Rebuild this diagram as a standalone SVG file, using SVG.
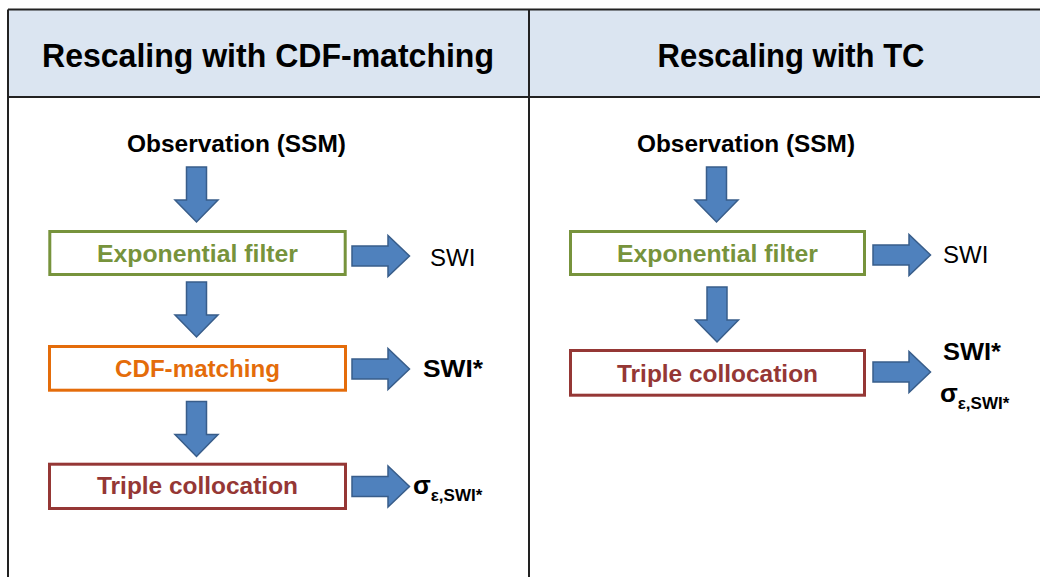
<svg xmlns="http://www.w3.org/2000/svg" xmlns:xlink="http://www.w3.org/1999/xlink" width="1040" height="577" viewBox="0 0 1040 577">
<style>
.hdr{font-family:"Liberation Sans",Arial,sans-serif;font-weight:bold;font-size:34px;fill:#000;text-anchor:middle}
.obs{font-family:"Liberation Sans",Arial,sans-serif;font-weight:bold;font-size:24px;fill:#000;text-anchor:middle}
.box{fill:#fff;stroke-width:3}
.lbl{font-family:"Liberation Sans",Arial,sans-serif;font-weight:bold;font-size:24px;text-anchor:middle}
.out{font-family:"Liberation Sans",Arial,sans-serif;font-size:24px;fill:#000}
.outb{font-family:"Liberation Sans",Arial,sans-serif;font-weight:bold;font-size:24px;fill:#000}
.sig{font-family:"Liberation Sans",Arial,sans-serif;font-weight:bold;font-size:26px;fill:#000}
.sub{font-size:17px}
.arr{fill:#4f81bd;stroke:#385d8a;stroke-width:1.5;stroke-linejoin:miter}
.frame{stroke:#222;stroke-width:2;fill:none}
</style>
<defs>
<path id="down" d="M-10,0 H10 V33 H21.5 L0,55 L-21.5,33 H-10 Z"/>
<path id="right" d="M0,-10 H36 V-20.5 L57.5,0 L36,20.5 V10 H0 Z"/>
</defs>
<rect x="0" y="0" width="1040" height="577" fill="#fff"/>
<g id="table">
<rect x="8" y="9.5" width="1032" height="87.5" fill="#dbe5f1"/>
<line class="frame" x1="8" y1="9.5" x2="1040" y2="9.5"/>
<line class="frame" x1="8" y1="97" x2="1040" y2="97"/>
<line class="frame" x1="8" y1="9.5" x2="8" y2="577"/>
<line class="frame" x1="529" y1="9.5" x2="529" y2="577"/>
<text class="hdr" x="268" y="67" textLength="452" lengthAdjust="spacingAndGlyphs">Rescaling with CDF-matching</text>
<text class="hdr" x="791" y="67" textLength="267" lengthAdjust="spacingAndGlyphs">Rescaling with TC</text>
</g>
<g id="connectors">
<use href="#down" class="arr" transform="translate(196.5,167)"/>
<use href="#down" class="arr" transform="translate(196.5,282)"/>
<use href="#down" class="arr" transform="translate(196.5,401.5)"/>
<use href="#down" class="arr" transform="translate(716.5,167)"/>
<use href="#down" class="arr" transform="translate(717,287)"/>
<use href="#right" class="arr" transform="translate(352,256)"/>
<use href="#right" class="arr" transform="translate(352,369)"/>
<use href="#right" class="arr" transform="translate(352,486.5)"/>
<use href="#right" class="arr" transform="translate(873,255)"/>
<use href="#right" class="arr" transform="translate(873,372)"/>
</g>
<g id="obs-left"><text class="obs" x="236.5" y="152" textLength="219" lengthAdjust="spacingAndGlyphs">Observation (SSM)</text></g>
<g id="obs-right"><text class="obs" x="746" y="152" textLength="218" lengthAdjust="spacingAndGlyphs">Observation (SSM)</text></g>
<g id="expfilter-left">
<rect class="box" x="49.8" y="231.5" width="295.4" height="43" stroke="#77933c"/>
<text class="lbl" x="197.5" y="261.5" fill="#77933c" textLength="201" lengthAdjust="spacingAndGlyphs">Exponential filter</text>
</g>
<g id="cdf-left">
<rect class="box" x="49.5" y="346.5" width="296" height="43.7" stroke="#e46c0a"/>
<text class="lbl" x="197.5" y="376.5" fill="#e46c0a" textLength="165" lengthAdjust="spacingAndGlyphs">CDF-matching</text>
</g>
<g id="tc-left">
<rect class="box" x="49.5" y="464.2" width="296" height="44.3" stroke="#953735"/>
<text class="lbl" x="197.5" y="494" fill="#953735" textLength="201" lengthAdjust="spacingAndGlyphs">Triple collocation</text>
</g>
<g id="expfilter-right">
<rect class="box" x="570.5" y="231.5" width="294" height="43" stroke="#77933c"/>
<text class="lbl" x="717.5" y="261.5" fill="#77933c" textLength="201" lengthAdjust="spacingAndGlyphs">Exponential filter</text>
</g>
<g id="tc-right">
<rect class="box" x="570.5" y="350.5" width="294" height="44.7" stroke="#953735"/>
<text class="lbl" x="717.5" y="381.5" fill="#953735" textLength="201" lengthAdjust="spacingAndGlyphs">Triple collocation</text>
</g>
<g id="out-swi-left"><text class="out" x="430" y="265.5">SWI</text></g>
<g id="out-swistar-left"><text class="outb" x="423" y="377" textLength="60" lengthAdjust="spacingAndGlyphs">SWI*</text></g>
<g id="out-sigma-left"><text class="sig" x="413" y="494">σ<tspan class="sub" dy="7">ε,SWI*</tspan></text></g>
<g id="out-swi-right"><text class="out" x="943" y="263">SWI</text></g>
<g id="out-swistar-right"><text class="outb" x="943" y="360" textLength="58" lengthAdjust="spacingAndGlyphs">SWI*</text></g>
<g id="out-sigma-right"><text class="sig" x="940" y="402">σ<tspan class="sub" dy="7">ε,SWI*</tspan></text></g>
</svg>
